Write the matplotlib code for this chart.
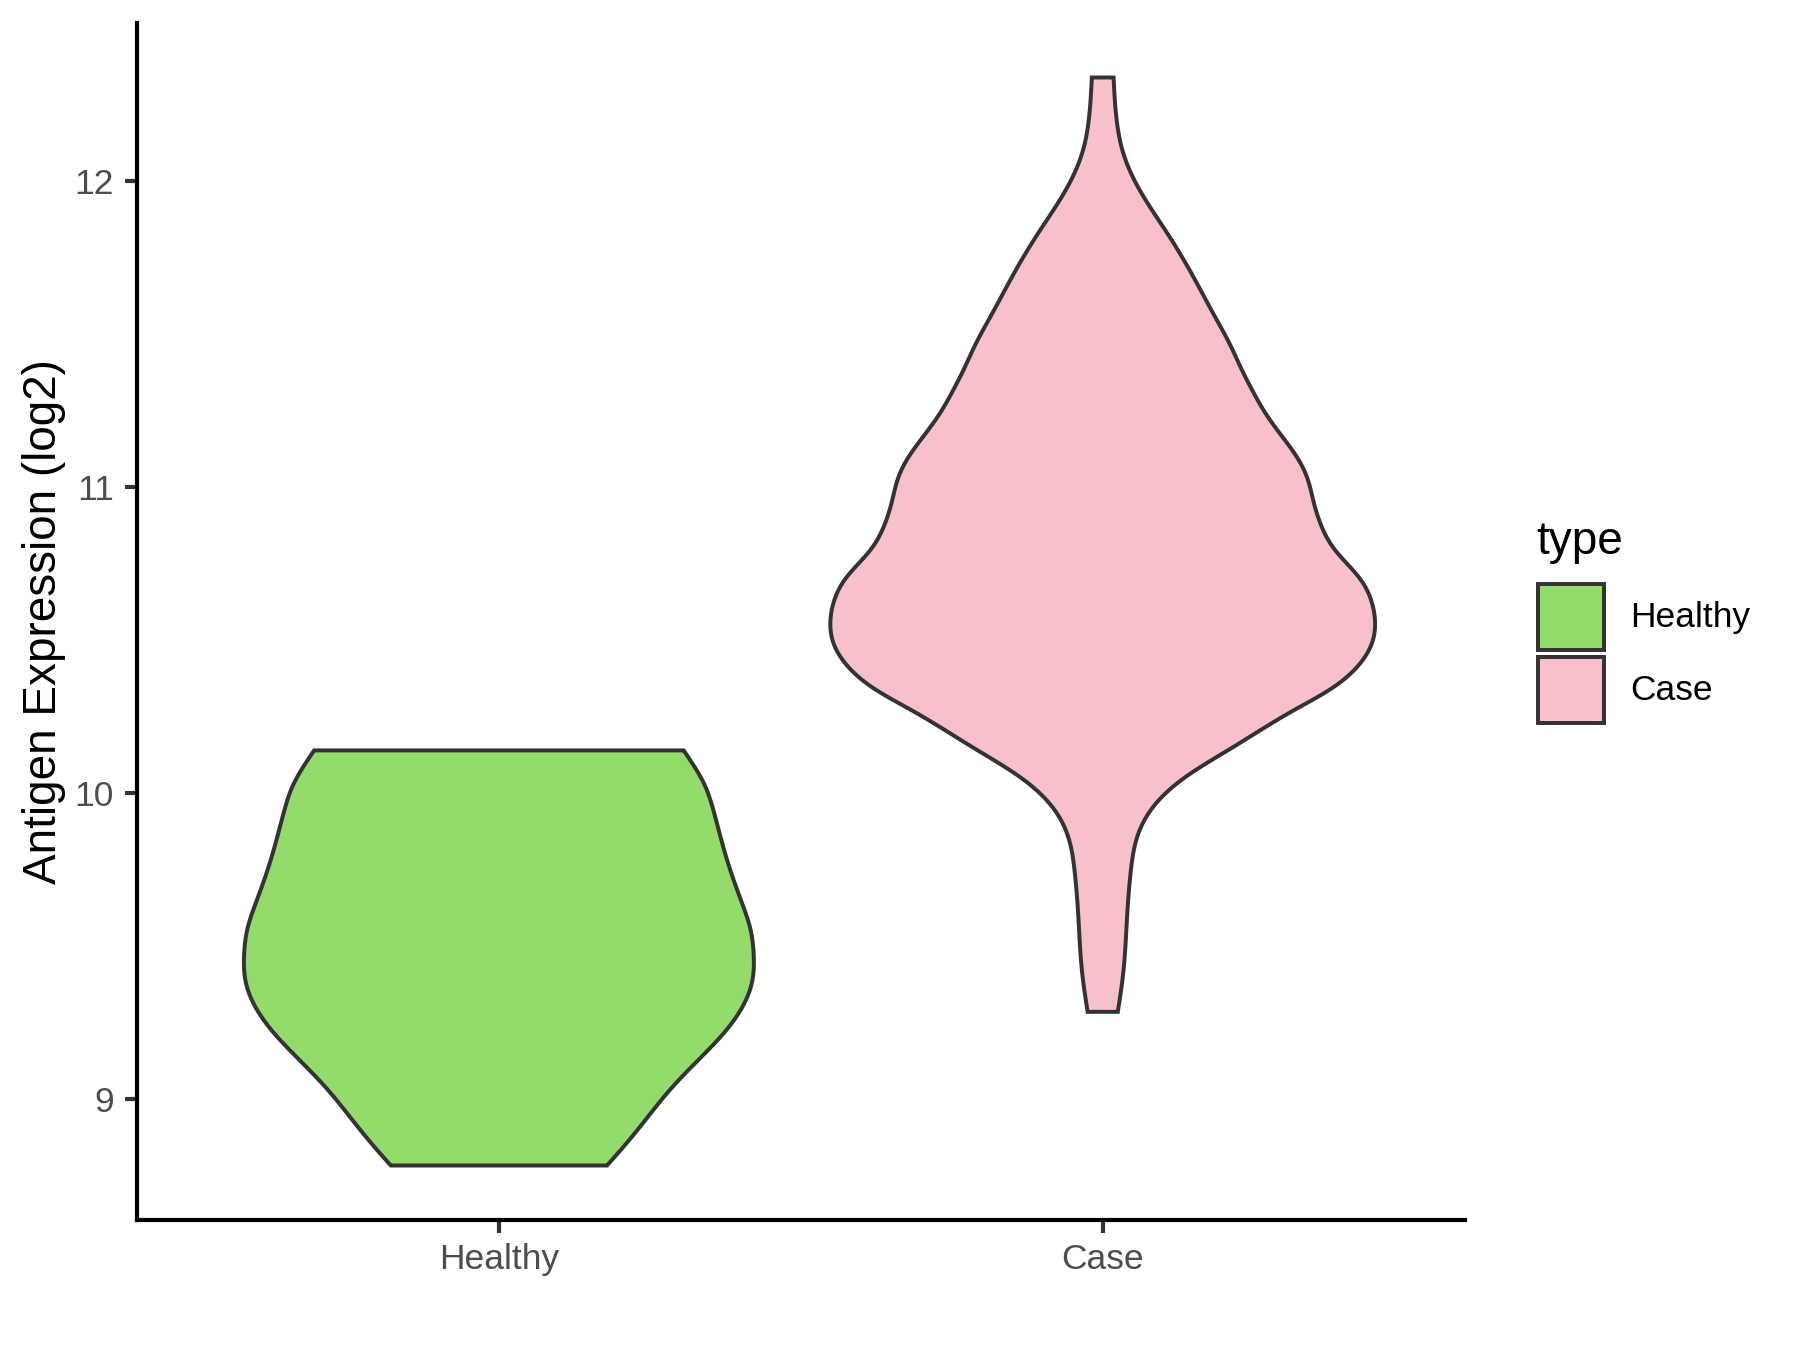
import numpy as np
import matplotlib
matplotlib.use("Agg")
import matplotlib.pyplot as plt
from matplotlib.patches import Polygon, Rectangle

# ---- data (violin outlines: y level -> half width in category units)
categories = ["Healthy", "Case"]
fill_colors = ["#93DB6B", "#F7C0CB"]

healthy_y = [10.139, 10.079, 10.025, 9.959, 9.894, 9.807, 9.720, 9.633, 9.560,
             9.470, 9.380, 9.300, 9.219, 9.131, 9.034, 8.935, 8.848, 8.783]
healthy_w = [0.306, 0.326, 0.341, 0.353, 0.362, 0.374, 0.388, 0.404, 0.416,
             0.422, 0.419, 0.403, 0.374, 0.332, 0.285, 0.244, 0.208, 0.179]

case_y = [12.337, 12.200, 12.097, 12.028, 11.937, 11.822, 11.697, 11.559, 11.468, 11.388,
          11.307, 11.239, 11.170, 11.102, 11.033, 10.953, 10.873, 10.793, 10.700, 10.620,
          10.560, 10.490, 10.420, 10.340, 10.265, 10.151, 10.049, 9.958, 9.867, 9.753,
          9.583, 9.412, 9.285]
case_w = [0.018, 0.023, 0.033, 0.046, 0.071, 0.109, 0.147, 0.185, 0.210, 0.229,
          0.250, 0.270, 0.295, 0.320, 0.338, 0.349, 0.362, 0.385, 0.426, 0.446,
          0.451, 0.446, 0.425, 0.378, 0.312, 0.217, 0.135, 0.085, 0.059, 0.047,
          0.040, 0.034, 0.025]

y_ticks = [9, 10, 11, 12]
y_label = "Antigen Expression (log2)"
legend_title = "type"


def natural_spline(ys, ws, n=600):
    x = np.asarray(ys, float)
    y = np.asarray(ws, float)
    order = np.argsort(x)
    x, y = x[order], y[order]
    N = len(x)
    h = np.diff(x)
    A = np.zeros((N, N))
    r = np.zeros(N)
    A[0, 0] = A[-1, -1] = 1.0
    for i in range(1, N - 1):
        A[i, i - 1] = h[i - 1]
        A[i, i] = 2 * (h[i - 1] + h[i])
        A[i, i + 1] = h[i]
        r[i] = 6 * ((y[i + 1] - y[i]) / h[i] - (y[i] - y[i - 1]) / h[i - 1])
    M = np.linalg.solve(A, r)
    xs = np.linspace(x[0], x[-1], n)
    idx = np.clip(np.searchsorted(x, xs) - 1, 0, N - 2)
    x0, x1 = x[idx], x[idx + 1]
    hh = x1 - x0
    a = (x1 - xs) / hh
    b = (xs - x0) / hh
    vals = (a * y[idx] + b * y[idx + 1]
            + ((a ** 3 - a) * M[idx] + (b ** 3 - b) * M[idx + 1]) * hh ** 2 / 6)
    return xs, vals


plt.rcParams["font.family"] = ["Liberation Sans", "DejaVu Sans"]

W, H = 1800, 1350
fig = plt.figure(figsize=(12, 9), dpi=150)
ax = fig.add_axes([136.6 / W, 1 - 1220 / H, (1465 - 136.6) / W, (1220 - 23) / H])

outline = "#333333"
lw = 1.9
for i, (ys, ws) in enumerate([(healthy_y, healthy_w), (case_y, case_w)]):
    pos = i + 1
    sy, sw = natural_spline(ys, ws)
    xs = np.concatenate([pos - sw, (pos + sw)[::-1]])
    yy = np.concatenate([sy, sy[::-1]])
    ax.add_patch(Polygon(np.column_stack([xs, yy]), closed=True,
                         facecolor=fill_colors[i], edgecolor=outline,
                         linewidth=lw, joinstyle="miter"))

ax.set_xlim(0.4, 2.6)
ax.set_ylim(8.605, 12.515)
ax.set_xticks([1, 2])
ax.set_xticklabels(categories)
ax.set_yticks(y_ticks)
ax.set_yticklabels([str(v) for v in y_ticks])
for s in ["top", "right"]:
    ax.spines[s].set_visible(False)
for s in ["left", "bottom"]:
    ax.spines[s].set_linewidth(2.0)
    ax.spines[s].set_color("black")
ax.tick_params(axis="both", length=6, width=2.0, color="#333333",
               labelsize=17, labelcolor="#4D4D4D", pad=5)
ax.set_ylabel(y_label, fontsize=22, color="black", labelpad=4)

# legend drawn by hand
tf = fig.transFigure
fig.text(1536 / W, 1 - 542 / H, legend_title, fontsize=22, ha="left", va="center")
for k, (lab, col) in enumerate(zip(categories, fill_colors)):
    y0 = 584 + k * 73
    fig.patches.append(Rectangle((1538 / W, 1 - (y0 + 66) / H), 66 / W, 66 / H,
                                 transform=tf, facecolor=col, edgecolor=outline,
                                 linewidth=lw))
    fig.text(1630 / W, 1 - (y0 + 33) / H, lab, fontsize=17, ha="left", va="center")

fig.savefig("out.png", dpi=150, facecolor="white")
